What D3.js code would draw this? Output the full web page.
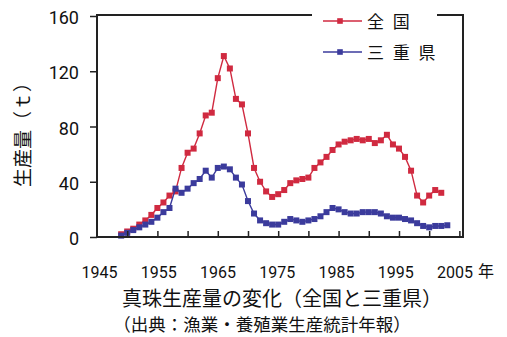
<!DOCTYPE html>
<html><head><meta charset="utf-8">
<script src="https://cdn.jsdelivr.net/npm/d3@7"></script>
<style>
html,body{margin:0;padding:0;background:#fff;}
svg{display:block;}
text{font-family:Roboto,"Noto Sans CJK JP",sans-serif;fill:#111;}
.jp{font-family:"Noto Sans CJK JP",sans-serif;fill:#111;}
</style></head>
<body>
<script>
// ---- data ----
const seriesNames = ["全国", "三重県"];
const nationalYears = [1949,1950,1951,1952,1953,1954,1955,1956,1957,1958,1959,1960,1961,1962,1963,1964,1965,1966,1967,1968,1969,1970,1971,1972,1973,1974,1975,1976,1977,1978,1979,1980,1981,1982,1983,1984,1985,1986,1987,1988,1989,1990,1991,1992,1993,1994,1995,1996,1997,1998,1999,2000,2001,2002];
const nationalValues = [2,4,6,9,12,16,21,25,30,33,50,61,64,75,88,90,115,131,122,100,96,75,50,40,33,29,31,34,39,41,42,43,50,54,58,63,67,69,70,71,70,71,68,70,74,67,64,58,48,30,25,30,34,32];
const mieYears = [1949,1950,1951,1952,1953,1954,1955,1956,1957,1958,1959,1960,1961,1962,1963,1964,1965,1966,1967,1968,1969,1970,1971,1972,1973,1974,1975,1976,1977,1978,1979,1980,1981,1982,1983,1984,1985,1986,1987,1988,1989,1990,1991,1992,1993,1994,1995,1996,1997,1998,1999,2000,2001,2002,2003];
const mieValues = [1,3,5,7,9,11,14,18,21,35,32,35,39,42,48,43,50,51,49,43,38,26,17,12,10,9,9,11,13,12,11,12,13,15,18,21,20,18,17,17,18,18,18,17,15,14,14,13,12,10,8,7,8,8,8.5];
const yTicks = [0,40,80,120,160];
const xTickYears = [1950,1955,1960,1965,1970,1975,1980,1985,1990,1995,2000,2005];
const xLabelYears = [1945,1955,1965,1975,1985,1995,2005];
const colors = ["#d02a40", "#3b3b9c"];

const W = 507, H = 337;
const svg = d3.select("body").append("svg").attr("width", W).attr("height", H);

const x = d3.scaleLinear().domain([1945, 2005.6]).range([97, 463]);
const y = d3.scaleLinear().domain([0, 160]).range([237, 16]);
// separate scale for the year labels row (placed as in the original figure)
const xLab = d3.scaleLinear().domain([1945, 2005]).range([99.5, 455]);

const nat = nationalYears.map((yr,i)=>({yr, v: nationalValues[i]}));
const mie = mieYears.map((yr,i)=>({yr, v: mieValues[i]}));
const series = [nat, mie];

const line = d3.line().x(d=>x(d.yr)).y(d=>y(d.v));

// lines and markers
series.forEach((s, i) => {
  const g = svg.append("g");
  g.append("path").datum(s).attr("d", line)
    .attr("fill","none").attr("stroke", colors[i]).attr("stroke-width", 1.4);
  g.selectAll("rect").data(s).enter().append("rect")
    .attr("x", d=>x(d.yr)-3).attr("y", d=>y(d.v)-3)
    .attr("width", 6).attr("height", 6).attr("fill", colors[i]);
});

// frame
const frame = svg.append("g").attr("fill","none").attr("stroke","#222").attr("stroke-width",2);
const x0 = x.range()[0], x1 = x.range()[1], yb = y(0), yt = 15;
frame.append("path").attr("d", `M${312},${yt}H${x0}V${yb}H${x1}V${yt}H${437}`);

// y axis ticks & labels
const yAxis = d3.axisLeft(y).tickValues(yTicks).tickSize(7).tickPadding(11);
const yg = svg.append("g").attr("transform",`translate(${x0},0)`).call(yAxis);
yg.select(".domain").remove();
yg.selectAll(".tick line").attr("stroke","#222").attr("stroke-width",1.5);
yg.selectAll(".tick text").attr("font-size",18).attr("font-family","Roboto,sans-serif").attr("fill","#111").attr("dy","0.42em");

// x axis ticks (inward)
const xAxis = d3.axisTop(x).tickValues(xTickYears).tickSize(6).tickFormat("");
const xg = svg.append("g").attr("transform",`translate(0,${yb})`).call(xAxis);
xg.select(".domain").remove();
xg.selectAll(".tick line").attr("stroke","#222").attr("stroke-width",1.5);

// x labels
svg.append("g").selectAll("text").data(xLabelYears).enter().append("text")
  .attr("x", d=>xLab(d)).attr("y", 278).attr("text-anchor","middle")
  .attr("font-size",16).text(d=>d);
svg.append("text").attr("class","jp").attr("x", 478).attr("y", 277)
  .attr("font-size",16).text("年");

// y title
svg.append("text").attr("class","jp")
  .attr("transform","translate(30,130) rotate(-90)")
  .attr("text-anchor","middle").attr("font-size",19).attr("fill","#111")
  .text("生産量（ｔ）");

// titles
svg.append("text").attr("class","jp").attr("x",282).attr("y",306)
  .attr("text-anchor","middle").attr("font-size",20).text("真珠生産量の変化（全国と三重県）");
svg.append("text").attr("class","jp").attr("x",262).attr("y",331)
  .attr("text-anchor","middle").attr("font-size",17.5).text("（出典：漁業・養殖業生産統計年報）");

// legend
const legendLabels = ["全 国", "三 重 県"];
const legY = [21, 52];
seriesNames.forEach((nm, i) => {
  const g = svg.append("g");
  g.append("line").attr("x1",323).attr("x2",362).attr("y1",legY[i]).attr("y2",legY[i])
    .attr("stroke",colors[i]).attr("stroke-width",1.3);
  g.append("rect").attr("x",340-2.8).attr("y",legY[i]-2.8).attr("width",5.6).attr("height",5.6)
    .attr("fill",colors[i]);
  g.append("text").attr("class","jp").attr("x",367).attr("y",legY[i]+6.5)
    .attr("font-size",17).attr("letter-spacing",2.5).attr("xml:space","preserve")
    .text(legendLabels[i]);
});
</script>
</body></html>
